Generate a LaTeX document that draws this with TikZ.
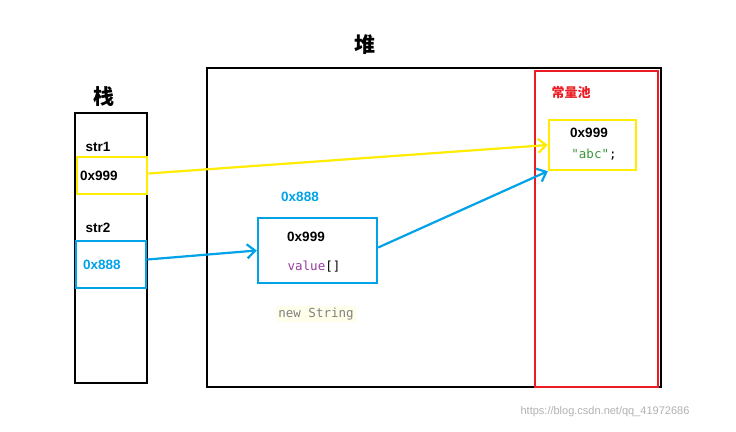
\documentclass[tikz,border=0pt]{standalone}
\usepackage{fontspec}
\setmainfont{Liberation Sans}
\newfontfamily\cjk{Noto Sans CJK SC}
\newfontfamily\codef{DejaVu Sans Mono}
\usetikzlibrary{arrows.meta}
\definecolor{yel}{RGB}{255,236,0}
\definecolor{blu}{RGB}{0,162,232}
\definecolor{redc}{RGB}{237,28,36}
\definecolor{purp}{RGB}{151,60,160}
\definecolor{grn}{RGB}{60,150,60}
\tikzset{
 box/.style={draw,line width=2.4pt,inner sep=0pt},
 lbl/.style={font=\bfseries\fontsize{13.5}{15}\selectfont},
 code/.style={font=\codef\fontsize{12.5}{14}\selectfont},
 arr/.style={line width=2.2pt,-{Straight Barb[length=8pt,width=14pt]}},
}
\begin{document}
\begin{tikzpicture}[x=1pt,y=-1pt]
\useasboundingbox[fill=white] (0,0) rectangle (736,431);
% stack
\node[box,draw=black,minimum width=72pt,minimum height=270pt] (stack) at (111,248) {};
\node[font=\cjk\bfseries\fontsize{21}{22}\selectfont] (stk) at (104,97) {栈};
\node[lbl] (s1) at (98,147) {str1};
\node[box,draw=yel,minimum width=70pt,minimum height=37pt,anchor=west,lbl,inner xsep=3pt,text width=64pt] (v1) at (76,175.5) {0x999};
\node[lbl] (s2) at (98,228) {str2};
\node[box,draw=blu,minimum width=70pt,minimum height=47pt,anchor=west,lbl,text=blu,inner xsep=7pt,text width=56pt] (v2) at (75,264.5) {0x888};
% heap
\node[box,draw=black,minimum width=454pt,minimum height=319pt] (heap) at (434,227.5) {};
\node[font=\cjk\bfseries\fontsize{21}{22}\selectfont] (hp) at (365,45) {堆};
\node[box,draw=redc,minimum width=123pt,minimum height=316pt] (pool) at (596.5,229) {};
\node[font=\cjk\bfseries\fontsize{13}{14}\selectfont,text=redc] (pl) at (571,93) {常量池};
\node[box,draw=yel,minimum width=87pt,minimum height=50pt] (abc) at (592.5,145) {};
\node[lbl] (a1) at (589,133) {0x999};
\node[code] (a2) at (594,155) {\textcolor{grn}{"abc"};};
\node[lbl,text=blu] (ob) at (300,197) {0x888};
\node[box,draw=blu,minimum width=119pt,minimum height=65pt] (obj) at (317.5,250.5) {};
\node[lbl] (o1) at (306,237) {0x999};
\node[code] (o2) at (314,267) {\textcolor{purp}{value}[]};
\node[fill=yellow!8,code,text=gray,inner sep=2pt] (ns) at (316,314) {new String};
% arrows
\draw[arr,yel] (v1.east) ++(0,-2) -- (abc.west);
\draw[arr,blu] (v2.east) ++(0,-5) -- (obj.west);
\draw[arr,blu] (obj.east) ++(0,-3) -- (abc.south west);
\node[text=gray!60,font=\fontsize{11}{12}\selectfont] (wm) at (605,412) {https://blog.csdn.net/qq\_41972686};
\end{tikzpicture}
\end{document}
